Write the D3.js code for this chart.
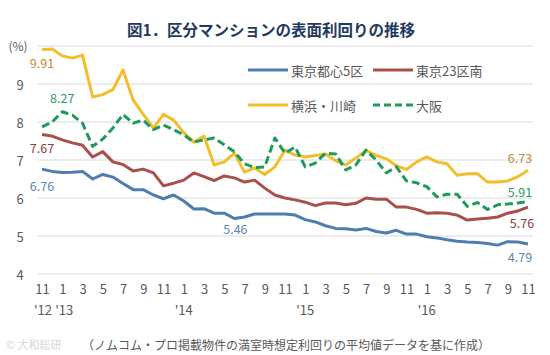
<!DOCTYPE html>
<html><head><meta charset="utf-8">
<script src="https://cdn.jsdelivr.net/npm/d3@7/dist/d3.min.js"></script>
<style>
body{margin:0;background:#fff;}
svg{display:block;font-family:"Noto Sans CJK JP","Noto Sans",sans-serif;}
</style>
</head><body>
<svg id="chart" width="550" height="355"></svg>
<script>
// ---- data (monthly, Nov 2012 .. Nov 2016) ----
const tickMonthLabels = ["11","1","3","5","7","9","11","1","3","5","7","9","11","1","3","5","7","9","11","1","3","5","7","9","11"];
const yearLabels = ["'12","'13","'14","'15","'16"];
const yearIndex = [0,2,14,26,38];
const yTicks = [4,5,6,7,8,9,10];
const seriesNames = ["東京都心5区","東京23区南","横浜・川崎","大阪"];

const tokyo5 = [6.76,6.70,6.67,6.68,6.70,6.50,6.62,6.55,6.38,6.22,6.22,6.08,5.98,6.08,5.92,5.71,5.72,5.60,5.60,5.46,5.50,5.58,5.58,5.58,5.58,5.55,5.43,5.37,5.27,5.20,5.19,5.16,5.20,5.12,5.08,5.15,5.05,5.05,4.98,4.95,4.90,4.86,4.84,4.83,4.80,4.76,4.85,4.84,4.79];
const tokyo23s = [7.67,7.63,7.53,7.45,7.39,7.08,7.22,6.95,6.88,6.71,6.76,6.66,6.32,6.39,6.47,6.66,6.56,6.46,6.58,6.53,6.42,6.47,6.26,6.08,6.00,5.95,5.89,5.80,5.87,5.87,5.82,5.86,6.00,5.97,5.97,5.76,5.76,5.70,5.60,5.61,5.60,5.55,5.42,5.45,5.47,5.50,5.60,5.66,5.76];
const yokohama = [9.91,9.92,9.74,9.68,9.76,8.66,8.72,8.85,9.37,8.58,8.20,7.84,8.20,8.05,7.72,7.47,7.63,6.87,6.95,7.18,6.68,6.79,6.62,6.82,7.26,7.13,7.08,7.12,7.16,6.98,6.87,7.05,7.25,7.12,7.03,6.85,6.75,6.95,7.08,6.95,6.90,6.60,6.64,6.64,6.42,6.42,6.45,6.56,6.73];
const osaka = [7.87,8.00,8.27,8.18,7.97,7.36,7.55,7.84,8.20,7.97,8.05,7.80,7.92,7.80,7.66,7.47,7.53,7.58,7.40,7.22,6.90,6.80,6.82,7.58,7.18,7.34,6.82,6.92,7.18,7.16,6.74,6.87,7.26,7.00,6.66,6.82,6.45,6.40,6.30,6.03,6.10,6.10,5.78,5.88,5.70,5.82,5.84,5.87,5.91];

const seriesData = [tokyo5, tokyo23s, yokohama, osaka];
const seriesColors = ["#4F7DB0","#A8504B","#F2BE2C","#1E9A5C"];
const seriesDash = [null,null,null,"8,4"];
const labelColors = ["#5A86B5","#8E3838","#C8873A","#2E9C6A"];

// ---- layout ----
const svg = d3.select("#chart");
const x = d3.scaleLinear().domain([0, tokyo5.length - 1]).range([42, 528]);
const y = d3.scaleLinear().domain([4, 10]).range([274, 46]);
const gridX0 = 38, gridX1 = 533;
const textGray = "#595959";

// title
svg.append("text").attr("x", 271).attr("y", 29)
  .attr("text-anchor","middle").attr("dominant-baseline","central")
  .attr("font-size", 15.5).attr("font-weight", 700).attr("fill", "#1F3A60")
  .text("図1．区分マンションの表面利回りの推移");

// gridlines
svg.append("g").selectAll("line").data(yTicks).join("line")
  .attr("x1", gridX0).attr("x2", gridX1)
  .attr("y1", d => y(d)).attr("y2", d => y(d))
  .attr("stroke", "#D9D9D9").attr("stroke-width", 1);

// y tick labels
svg.append("g").selectAll("text").data(yTicks.filter(d => d < 10)).join("text")
  .attr("x", 20).attr("y", d => y(d))
  .attr("text-anchor","middle").attr("dominant-baseline","central")
  .attr("font-size", 13).attr("fill", textGray).text(d => d);
svg.append("text").attr("x", 18).attr("y", y(10) - 1)
  .attr("text-anchor","middle").attr("dominant-baseline","central")
  .attr("font-size", 12).attr("fill", textGray).text("(%)");

// x tick labels
const xAxis = d3.axisBottom(x)
  .tickValues(tickMonthLabels.map((d, i) => i * 2))
  .tickFormat((d, i) => tickMonthLabels[i])
  .tickSize(0).tickPadding(0);
const gx = svg.append("g").attr("transform", "translate(0,285)").call(xAxis);
gx.select(".domain").remove();
gx.selectAll("text").attr("font-size", 13).attr("fill", textGray)
  .attr("font-family", '"Noto Sans CJK JP","Noto Sans",sans-serif');

svg.append("g").selectAll("text").data(yearLabels).join("text")
  .attr("x", (d, i) => x(yearIndex[i]) + (i === 0 ? 1 : (i === 1 ? 2 : 0)))
  .attr("y", 309)
  .attr("text-anchor","middle").attr("dominant-baseline","central")
  .attr("font-size", 13).attr("fill", textGray).text(d => d);

// lines
const line = d3.line().x((d, i) => x(i)).y(d => y(d));
seriesData.forEach((s, k) => {
  const p = svg.append("path").datum(s)
    .attr("fill","none").attr("stroke", seriesColors[k])
    .attr("stroke-width", 3).attr("stroke-linejoin","round")
    .attr("d", line);
  if (seriesDash[k]) p.attr("stroke-dasharray", seriesDash[k]);
});

// data labels
const dataLabels = [
  {s:2, i:0, dx:0, dy:13},
  {s:3, i:2, dx:0, dy:-14},
  {s:1, i:0, dx:0, dy:13},
  {s:0, i:0, dx:0, dy:16},
  {s:0, i:19, dx:1, dy:10},
  {s:2, i:48, dx:-8, dy:-13},
  {s:3, i:48, dx:-8, dy:-10},
  {s:1, i:48, dx:-6, dy:15},
  {s:0, i:48, dx:-8, dy:13}
];
svg.append("g").selectAll("text").data(dataLabels).join("text")
  .attr("x", d => x(d.i) + d.dx)
  .attr("y", d => y(seriesData[d.s][d.i]) + d.dy)
  .attr("text-anchor","middle").attr("dominant-baseline","central")
  .attr("font-size", 12.5).attr("fill", d => labelColors[d.s])
  .text(d => seriesData[d.s][d.i].toFixed(2));

// legend
const legendItems = [
  {k:0, lx:248, ly:70}, {k:1, lx:373, ly:70},
  {k:2, lx:248, ly:105}, {k:3, lx:373, ly:105}
];
const lg = svg.append("g");
legendItems.forEach(it => {
  const l = lg.append("line").attr("x1", it.lx).attr("x2", it.lx + 40)
    .attr("y1", it.ly).attr("y2", it.ly)
    .attr("stroke", seriesColors[it.k]).attr("stroke-width", 3);
  if (seriesDash[it.k]) l.attr("stroke-dasharray", "7,4");
  lg.append("text").attr("x", it.lx + 43).attr("y", it.ly)
    .attr("dominant-baseline","central").attr("font-size", 13)
    .attr("fill", textGray).text(seriesNames[it.k]);
});

// footer
svg.append("text").attr("x", 6).attr("y", 344).attr("dominant-baseline","central")
  .attr("font-size", 11).attr("fill", "#D8D8D8").text("© 大和総研");
svg.append("text").attr("x", 82).attr("y", 344).attr("dominant-baseline","central")
  .attr("font-size", 12).attr("fill", textGray)
  .text("（ノムコム・プロ掲載物件の満室時想定利回りの平均値データを基に作成）");
</script>
</body></html>
